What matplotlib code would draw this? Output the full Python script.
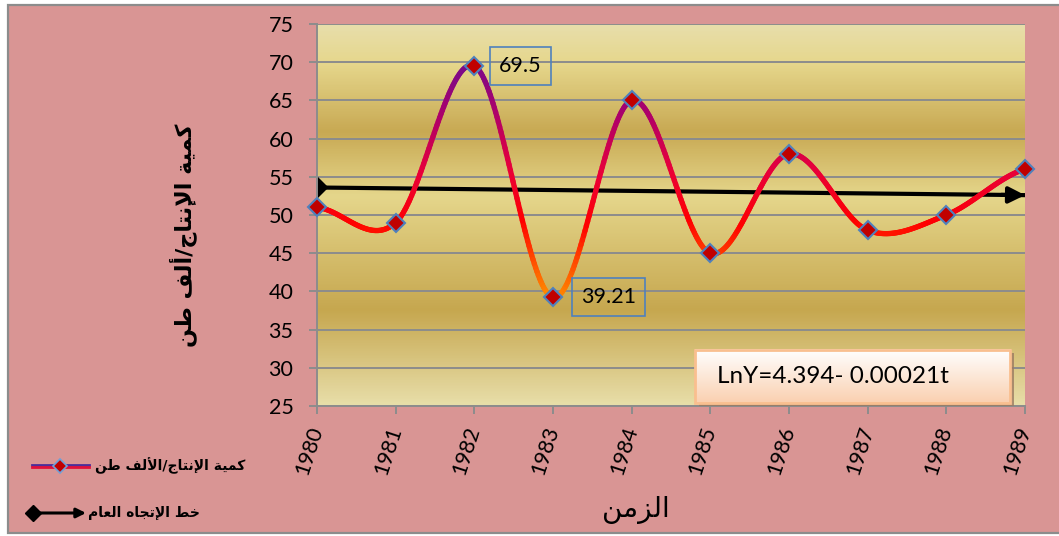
"""
كمية الإنتاج (ألف طن) 1980-1989 مع خط الاتجاه العام
"""

import matplotlib
matplotlib.use('Agg')
import matplotlib.pyplot as plt
import numpy as np
from matplotlib.collections import LineCollection
from matplotlib.colors import LinearSegmentedColormap, Normalize
from matplotlib.lines import Line2D
from matplotlib.patches import Rectangle, FancyArrowPatch

# data
years = [1980, 1981, 1982, 1983, 1984, 1985, 1986, 1987, 1988, 1989]
production = [51, 49, 69.5, 39.21, 65, 45, 58, 48, 50, 56]
trend_years = [1980, 1989]
trend_values = [53.6, 52.6]
y_ticks = [25, 30, 35, 40, 45, 50, 55, 60, 65, 70, 75]
equation = 'LnY=4.394- 0.00021t'
y_title = 'كمية الإنتاج/ألف طن'
x_title = 'الزمن'
leg_series = 'كمية الإنتاج/الألف طن'
leg_trend = 'خط الإتجاه العام'

# colours
PINK = '#D99594'
FRAME = '#8C8C8C'
GRID = '#8C8C8C'
MARK = '#C00000'
MARK_EDGE = '#4F81BD'
NUM_FONT = 'Lato'

# matplotlib has no arabic shaping -> map letters to presentation forms by hand
FORMS = {
    'ا': '\ufe8d\ufe8e', 'أ': '\ufe83\ufe84', 'إ': '\ufe87\ufe88', 'ة': '\ufe93\ufe94',
    'ز': '\ufeaf\ufeb0',
    'ت': '\ufe95\ufe96\ufe97\ufe98', 'ج': '\ufe9d\ufe9e\ufe9f\ufea0',
    'خ': '\ufea5\ufea6\ufea7\ufea8', 'ط': '\ufec1\ufec2\ufec3\ufec4',
    'ع': '\ufec9\ufeca\ufecb\ufecc', 'ف': '\ufed1\ufed2\ufed3\ufed4',
    'ك': '\ufed9\ufeda\ufedb\ufedc', 'ل': '\ufedd\ufede\ufedf\ufee0',
    'م': '\ufee1\ufee2\ufee3\ufee4', 'ن': '\ufee5\ufee6\ufee7\ufee8',
    'ه': '\ufee9\ufeea\ufeeb\ufeec', 'ي': '\ufef1\ufef2\ufef3\ufef4',
}
LAMALEF = {'ا': '\ufefb\ufefc', 'أ': '\ufef7\ufef8', 'إ': '\ufef9\ufefa'}


def shape(s):
    out = []
    prev = False
    i = 0
    while i < len(s):
        c = s[i]
        nxt = s[i + 1] if i + 1 < len(s) else None
        if c == 'ل' and nxt in LAMALEF:
            out.append(LAMALEF[nxt][1 if prev else 0])
            prev = False
            i += 2
            continue
        if c in FORMS:
            f = FORMS[c]
            join = len(f) == 4 and nxt in FORMS
            if prev and join:
                out.append(f[3])
            elif prev:
                out.append(f[1])
            elif join:
                out.append(f[2])
            else:
                out.append(f[0])
            prev = join
        else:
            out.append(c)
            prev = False
        i += 1
    return ''.join(reversed(out))


def smooth(x, y, n=60):
    # excel-like smoothed line (catmull-rom)
    x = np.asarray(x, float)
    y = np.asarray(y, float)
    yp = np.r_[y[0], y, y[-1]]
    t = np.linspace(0, 1, n)
    h00 = 2*t**3 - 3*t**2 + 1
    h10 = t**3 - 2*t**2 + t
    h01 = -2*t**3 + 3*t**2
    h11 = t**3 - t**2
    xs, ys = [], []
    for i in range(len(x) - 1):
        m0 = (yp[i+2] - yp[i]) / 2
        m1 = (yp[i+3] - yp[i+1]) / 2
        xs.append(x[i] + t * (x[i+1] - x[i]))
        ys.append(h00*y[i] + h10*m0 + h01*y[i+1] + h11*m1)
    return np.concatenate(xs), np.concatenate(ys)


fig = plt.figure(figsize=(10.59, 5.36), dpi=100, facecolor='white')
fig.add_artist(Rectangle((7.5/1059, 3/536), 1.0, 528/536, transform=fig.transFigure,
                         facecolor=PINK, edgecolor=FRAME, lw=1.6, zorder=0))

ax = fig.add_axes([317/1059, 130/536, 708/1059, 382/536])
ax.patch.set_alpha(0)

# gold banded background
bg = LinearSegmentedColormap.from_list('bg', [
    (0.0, '#E8DEAB'), (0.10, '#E6D78C'), (0.28, '#C8A953'),
    (0.45, '#E5D68B'), (0.75, '#C6A74F'), (1.0, '#E8DEA9')])
ax.imshow(np.linspace(0, 1, 400).reshape(-1, 1), cmap=bg, extent=(0, 1, 0, 1),
          transform=ax.transAxes, aspect='auto', origin='upper', zorder=0)

ax.set_axisbelow(True)
ax.grid(axis='y', color=GRID, lw=1.4)
ax.grid(axis='x', visible=False)

# trend line with arrow
ax.plot(trend_years, trend_values, color='black', lw=3, zorder=2.5)
ax.plot(trend_years[:1], trend_values[:1], 'D', color='black', ms=10, zorder=2.5)
ax.annotate('', xy=(trend_years[1], trend_values[1]),
            xytext=(trend_years[0] + 8.7, trend_values[0] + (trend_values[1] - trend_values[0]) * 8.7 / 9),
            arrowprops=dict(arrowstyle='-|>', mutation_scale=24, lw=3, color='black',
                            shrinkA=0, shrinkB=0), zorder=2.6)

# smoothed gradient curve
sx, sy = smooth(years, production)
pts = np.column_stack([sx, sy])
segs = np.stack([pts[:-1], pts[1:]], axis=1)
line_cmap = LinearSegmentedColormap.from_list('ln', [
    (0.0, '#FF8C00'), (0.18, '#FF4000'), (0.32, '#FF0000'),
    (0.55, '#E8003A'), (0.78, '#B00068'), (1.0, '#7A0A8A')])
lc = LineCollection(segs, cmap=line_cmap, norm=Normalize(min(production), max(production)),
                    lw=3.8, capstyle='round', zorder=3)
lc.set_array((sy[:-1] + sy[1:]) / 2)
ax.add_collection(lc)

ax.plot(years, production, ls='none', marker='D', ms=9.5, mfc=MARK, mec=MARK_EDGE,
        mew=1.5, zorder=5, clip_on=False)

# data labels for max and min
imax = int(np.argmax(production))
imin = int(np.argmin(production))
for i, dx in ((imax, 33), (imin, 40)):
    ax.annotate(f'{production[i]:g}', (years[i], production[i]), xytext=(dx, 0),
                textcoords='offset points', ha='center', va='center',
                fontsize=15.5, family=NUM_FONT, zorder=6,
                bbox=dict(boxstyle='square,pad=0.42', fc='none', ec=MARK_EDGE, lw=1.2))

# equation box
bx0, bx1, by0, by1 = 0.534, 0.979, 0.008, 0.147
ax.add_patch(Rectangle((bx0 + 0.005, by0 - 0.009), bx1 - bx0, by1 - by0, transform=ax.transAxes,
                       facecolor='#9C7B62', edgecolor='none', alpha=0.8, zorder=6))
eq_cmap = LinearSegmentedColormap.from_list('eq', ['#FAD0B0', '#FFFFFF'])
ax.imshow(np.linspace(0, 1, 100).reshape(-1, 1), cmap=eq_cmap, extent=(bx0, bx1, by0, by1),
          transform=ax.transAxes, aspect='auto', origin='lower', zorder=7)
ax.add_patch(Rectangle((bx0, by0), bx1 - bx0, by1 - by0, transform=ax.transAxes,
                       fill=False, edgecolor='#F9BF8F', lw=2, zorder=8))
ax.text(bx0 + 0.031, (by0 + by1) / 2, equation, transform=ax.transAxes, fontsize=17.5,
        family=NUM_FONT, va='center', ha='left', zorder=9)

# axes
ax.set_xlim(years[0], years[-1])
ax.set_ylim(y_ticks[0], y_ticks[-1])
ax.set_yticks(y_ticks)
ax.set_xticks(years)
ax.set_xticklabels([str(y) for y in years], rotation=72, ha='right', va='center',
                   rotation_mode='anchor')
for lab in ax.get_xticklabels() + ax.get_yticklabels():
    lab.set_fontfamily(NUM_FONT)
    lab.set_fontsize(15.5)
ax.tick_params(axis='both', direction='out', length=6, width=1.4, color=FRAME)
ax.tick_params(axis='y', pad=11)
ax.tick_params(axis='x', pad=9)
for side in ('top', 'right'):
    ax.spines[side].set_visible(False)
for side in ('left', 'bottom'):
    ax.spines[side].set_color(FRAME)
    ax.spines[side].set_linewidth(1.4)

# titles
fig.text(183/1059, 1 - 235/536, shape(y_title), rotation=90, ha='center', va='center',
         fontsize=16, fontweight='bold', family='DejaVu Sans')
fig.text(636/1059, 1 - 510/536, shape(x_title), ha='center', va='center',
         fontsize=20, family='DejaVu Sans')

# legend (drawn by hand, sits outside the plot)
ly1 = 1 - 466/536
off = 1.4/536
fig.add_artist(Line2D([32/1059, 89/1059], [ly1 + off] * 2, color='#4B2D9A', lw=2,
                      transform=fig.transFigure))
fig.add_artist(Line2D([32/1059, 89/1059], [ly1 - off] * 2, color='#E0103A', lw=2,
                      transform=fig.transFigure))
fig.add_artist(Line2D([60/1059], [ly1], ls='none', marker='D', ms=7, mfc=MARK,
                      mec='#6FA0D8', mew=1.2, transform=fig.transFigure))
fig.text(245/1059, ly1, shape(leg_series), ha='right', va='center', fontsize=10,
         fontweight='bold', family='DejaVu Sans')

ly2 = 1 - 513/536
fig.add_artist(Line2D([33/1059], [ly2], ls='none', marker='D', ms=8, color='black',
                      transform=fig.transFigure))
fig.add_artist(FancyArrowPatch((33/1059, ly2), (86/1059, ly2), transform=fig.transFigure,
                               arrowstyle='-|>', mutation_scale=14, lw=2.2, color='black',
                               shrinkA=0, shrinkB=0))
fig.text(200/1059, ly2, shape(leg_trend), ha='right', va='center', fontsize=10,
         fontweight='bold', family='DejaVu Sans')

fig.savefig('out.png', dpi=100, facecolor='white')
